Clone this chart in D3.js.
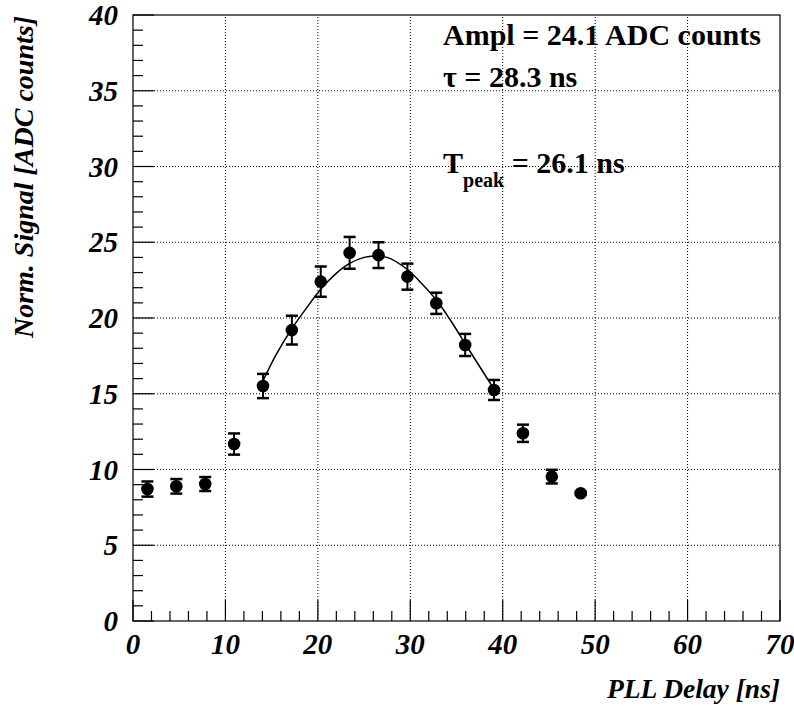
<!DOCTYPE html>
<html><head><meta charset="utf-8">
<script src="https://cdn.jsdelivr.net/npm/d3@7"></script>
<style>html,body{margin:0;padding:0;background:#fff}</style>
</head><body>
<svg id="c" width="794" height="711" font-family="Liberation Serif"></svg>
<script>
// ---- data ----
const delay = [1.5625, 4.6875, 7.8125, 10.9375, 14.0625, 17.1875, 20.3125, 23.4375, 26.5625, 29.6875, 32.8125, 35.9375, 39.0625, 42.1875, 45.3125, 48.4375];
const signal = [8.71, 8.89, 9.04, 11.68, 15.51, 19.2, 22.4, 24.3, 24.15, 22.73, 20.97, 18.22, 15.25, 12.39, 9.53, 8.43];
const errors = [0.5, 0.48, 0.46, 0.7, 0.8, 0.95, 1.0, 1.05, 0.85, 0.86, 0.7, 0.73, 0.66, 0.57, 0.45, 0.1];
const fitX = [14.06, 15.5, 17.19, 18.7, 20.31, 21.9, 23.44, 25.0, 26.1, 27.5, 29.69, 31.2, 32.81, 34.4, 35.94, 37.5, 39.06];
const fitY = [15.85, 17.6, 19.3, 20.6, 21.9, 22.9, 23.6, 24.0, 24.1, 24.0, 23.2, 22.3, 21.2, 19.8, 18.3, 16.8, 15.3];
const xTicks = [0, 10, 20, 30, 40, 50, 60, 70];
const yTicks = [0, 5, 10, 15, 20, 25, 30, 35, 40];
const xTitle = "PLL Delay [ns]";
const yTitle = "Norm. Signal [ADC counts]";
const ampl = "24.1", tau = "28.3", tpeak = "26.1";

// ---- layout ----
const L = 133, R = 780, T = 15, B = 621;
const x = d3.scaleLinear().domain([0, 70]).range([L, R]);
const y = d3.scaleLinear().domain([0, 40]).range([B, T]);
const svg = d3.select("#c");

// grid
const g = svg.append("g");
g.selectAll(".gx").data(xTicks.filter(d => d > 0 && d < 70)).enter().append("line")
  .attr("x1", d => x(d)).attr("x2", d => x(d)).attr("y1", B).attr("y2", T)
  .attr("stroke", "#000").attr("stroke-width", 1).attr("stroke-dasharray", "1,2");
g.selectAll(".gy").data(yTicks.filter(d => d > 0 && d < 40)).enter().append("line")
  .attr("x1", L).attr("x2", R).attr("y1", d => y(d)).attr("y2", d => y(d))
  .attr("stroke", "#000").attr("stroke-width", 1).attr("stroke-dasharray", "1,2");

// frame
svg.append("rect").attr("x", L).attr("y", T).attr("width", R - L).attr("height", B - T)
  .attr("fill", "none").attr("stroke", "#000").attr("stroke-width", 1.2);

// ticks
const xMinor = d3.range(0, 70.001, 2);
svg.append("g").selectAll("line").data(xMinor).enter().append("line")
  .attr("x1", d => x(d)).attr("x2", d => x(d)).attr("y1", B)
  .attr("y2", d => B - (d % 10 === 0 ? 21 : 10))
  .attr("stroke", "#000").attr("stroke-width", 1.2);
const yMinor = d3.range(0, 40.001, 1);
svg.append("g").selectAll("line").data(yMinor).enter().append("line")
  .attr("y1", d => y(d)).attr("y2", d => y(d)).attr("x1", L)
  .attr("x2", d => L + (d % 5 === 0 ? 21 : 10))
  .attr("stroke", "#000").attr("stroke-width", 1.2);

// tick labels
svg.append("g").selectAll("text").data(xTicks).enter().append("text")
  .attr("font-weight", "bold").attr("font-style", "italic")
  .attr("x", d => x(d)).attr("y", 654).attr("text-anchor", "middle")
  .attr("font-size", 29).text(d => d);
svg.append("g").selectAll("text").data(yTicks).enter().append("text")
  .attr("font-weight", "bold").attr("font-style", "italic")
  .attr("x", 118).attr("y", d => y(d) + 10).attr("text-anchor", "end")
  .attr("font-size", 29).text(d => d);

// titles
svg.append("text").attr("font-weight", "bold").attr("font-style", "italic")
  .attr("x", R).attr("y", 698).attr("text-anchor", "end")
  .attr("font-size", 27.5).text(xTitle);
svg.append("text").attr("font-weight", "bold").attr("font-style", "italic")
  .attr("transform", "translate(33,16) rotate(-90)").attr("text-anchor", "end")
  .attr("font-size", 28).text(yTitle);

// fit curve
const fit = fitX.map((d, i) => [d, fitY[i]]);
svg.append("path").datum(fit)
  .attr("d", d3.line().x(d => x(d[0])).y(d => y(d[1])).curve(d3.curveCatmullRom))
  .attr("fill", "none").attr("stroke", "#000").attr("stroke-width", 1.5);

// error bars + points
const pts = delay.map((d, i) => ({x: d, y: signal[i], e: errors[i]}));
const eb = svg.append("g");
pts.forEach(p => {
  eb.append("line").attr("x1", x(p.x)).attr("x2", x(p.x)).attr("y1", y(p.y - p.e)).attr("y2", y(p.y + p.e))
    .attr("stroke", "#000").attr("stroke-width", 2);
  [p.y - p.e, p.y + p.e].forEach(v => {
    eb.append("line").attr("x1", x(p.x) - 6).attr("x2", x(p.x) + 6).attr("y1", y(v)).attr("y2", y(v))
      .attr("stroke", "#000").attr("stroke-width", 2.5);
  });
});
svg.append("g").selectAll("circle").data(pts).enter().append("circle")
  .attr("cx", d => x(d.x)).attr("cy", d => y(d.y)).attr("r", 6.3).attr("fill", "#000");

// annotations
const ann = svg.append("g").attr("font-weight", "bold");
ann.append("text").attr("font-size", 30).attr("x", 443).attr("y", 45).text("Ampl = " + ampl + " ADC counts");
ann.append("text").attr("font-size", 30).attr("x", 443).attr("y", 87).text("\u03C4 = " + tau + " ns");
const tp = ann.append("text").attr("font-size", 30).attr("x", 443).attr("y", 173);
tp.append("tspan").text("T");
tp.append("tspan").attr("font-size", 20).attr("dy", 14).text("peak");
tp.append("tspan").attr("dy", -14).text(" = " + tpeak + " ns");
</script>
</body></html>
